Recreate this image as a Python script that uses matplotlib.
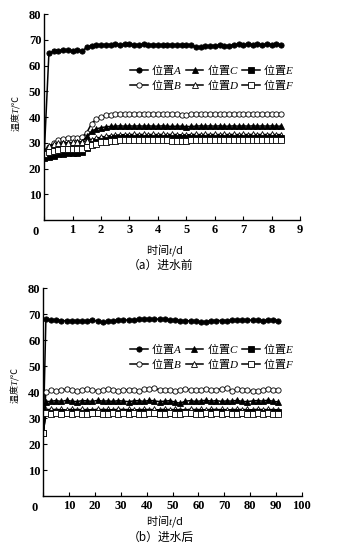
import numpy as np
import matplotlib
matplotlib.use("Agg")
import matplotlib.pyplot as plt

plt.rcParams['font.family'] = ['Noto Sans CJK SC', 'DejaVu Sans']
plt.rcParams['mathtext.fontset'] = 'custom'
plt.rcParams['mathtext.it'] = 'Liberation Serif:italic'
plt.rcParams['mathtext.rm'] = 'Liberation Serif'

# ---------------- data: (a) before water inflow ----------------
t_a = np.arange(51) / 6.0
A_a = [25.0, 64.8, 65.6, 65.8, 66.0, 65.9, 65.8, 65.9, 65.6, 67.2, 67.8, 68.0, 68.1,
       68.2, 68.2, 68.3, 68.2, 68.3, 68.3, 68.2, 68.2, 68.3, 68.2, 68.2, 68.2, 68.1,
       68.2, 68.2, 68.1, 68.2, 68.1, 68.1, 67.4, 67.3, 67.6, 67.8, 67.8, 67.9, 67.8,
       67.8, 68.2, 68.3, 68.2, 68.3, 68.2, 68.3, 68.2, 68.3, 68.2, 68.3, 68.2]
B_a = [25.5, 28.5, 30.0, 31.2, 31.5, 31.8, 32.0, 32.0, 32.3, 34.0, 37.5, 39.3, 40.2,
       40.7, 41.0, 41.1, 41.2, 41.3, 41.3, 41.3, 41.4, 41.3, 41.3, 41.3, 41.3, 41.3,
       41.3, 41.2, 41.2, 41.0, 41.0, 41.1, 41.3, 41.3, 41.3, 41.3, 41.3, 41.3, 41.3,
       41.3, 41.3, 41.3, 41.3, 41.3, 41.3, 41.3, 41.3, 41.3, 41.3, 41.3, 41.2]
C_a = [25.0, 27.5, 29.0, 29.5, 29.8, 30.0, 30.0, 30.2, 30.5, 32.5, 34.5, 35.4, 35.9,
       36.2, 36.4, 36.5, 36.6, 36.5, 36.6, 36.5, 36.6, 36.5, 36.6, 36.5, 36.5, 36.6,
       36.5, 36.4, 36.5, 36.5, 36.3, 36.4, 36.5, 36.6, 36.5, 36.6, 36.5, 36.6, 36.5,
       36.5, 36.6, 36.5, 36.6, 36.5, 36.6, 36.5, 36.6, 36.5, 36.6, 36.5, 36.5]
D_a = [27.0, 28.8, 29.5, 29.8, 30.0, 30.0, 30.2, 30.2, 30.5, 30.8, 31.3, 31.8, 32.2,
       32.5, 32.8, 33.0, 33.1, 33.2, 33.2, 33.3, 33.2, 33.3, 33.2, 33.3, 33.2, 33.3,
       33.2, 33.3, 33.2, 33.1, 33.1, 33.2, 33.3, 33.2, 33.3, 33.2, 33.3, 33.2, 33.3,
       33.2, 33.3, 33.2, 33.3, 33.2, 33.3, 33.2, 33.3, 33.2, 33.3, 33.2, 33.2]
E_a = [24.0, 24.5, 25.0, 25.5, 25.8, 26.0, 26.0, 26.2, 26.5, 28.0, 29.5, 30.3, 30.8,
       31.2, 31.5, 31.7, 31.8, 31.9, 31.9, 32.0, 31.9, 32.0, 31.9, 32.0, 31.9, 32.0,
       31.9, 31.9, 31.8, 31.8, 31.8, 31.9, 31.9, 32.0, 31.9, 32.0, 31.9, 32.0, 31.9,
       32.0, 31.9, 32.0, 31.9, 32.0, 31.9, 32.0, 31.9, 32.0, 31.9, 32.0, 31.9]
F_a = [25.5, 26.5, 27.0, 27.3, 27.5, 27.5, 27.6, 27.6, 27.8, 28.2, 29.0, 29.7, 30.2,
       30.5, 30.7, 30.9, 31.0, 31.0, 31.1, 31.0, 31.1, 31.0, 31.1, 31.0, 31.0, 31.0,
       31.0, 30.9, 30.9, 30.9, 30.9, 31.0, 31.0, 31.1, 31.0, 31.1, 31.0, 31.1, 31.0,
       31.0, 31.0, 31.1, 31.0, 31.1, 31.0, 31.1, 31.0, 31.1, 31.0, 31.1, 31.0]

# ---------------- data: (b) after water inflow ----------------
t_b = np.concatenate([[0.0], np.arange(1, 92, 2)])
A_b = [24.5, 68.0, 67.8, 67.7, 67.6, 67.5, 67.6, 67.5, 67.4, 67.6, 67.8, 67.3, 66.9,
       67.3, 67.6, 67.7, 67.8, 67.8, 67.9, 68.0, 68.1, 68.2, 68.1, 68.2, 68.0, 67.8,
       67.7, 67.6, 67.5, 67.5, 67.3, 66.9, 67.2, 67.5, 67.6, 67.6, 67.6, 67.7, 67.8,
       67.7, 67.8, 67.7, 67.7, 67.6, 67.7, 67.7, 67.6]
B_b = [24.5, 40.3, 40.9, 40.5, 41.0, 41.1, 40.8, 40.4, 41.0, 41.1, 40.9, 40.5, 41.0,
       41.1, 41.0, 40.5, 40.8, 41.0, 41.0, 40.6, 41.1, 41.2, 41.5, 41.0, 40.9, 41.0,
       40.4, 40.9, 41.1, 41.0, 40.8, 41.0, 41.1, 40.9, 40.8, 41.4, 41.5, 40.6, 41.1,
       41.0, 40.7, 40.6, 40.4, 41.0, 41.1, 40.8, 40.9]
C_b = [24.5, 36.3, 36.6, 36.8, 36.5, 36.9, 36.6, 36.4, 36.8, 36.7, 36.5, 36.9, 36.6,
       36.7, 36.5, 36.8, 36.6, 36.4, 36.7, 36.8, 36.5, 36.9, 36.7, 36.4, 36.6, 36.8,
       36.2, 35.8, 36.6, 36.8, 36.5, 36.7, 36.9, 36.6, 36.8, 36.5, 36.7, 36.6, 36.9,
       36.5, 36.4, 36.7, 36.8, 36.6, 37.0, 36.5, 36.3]
D_b = [24.5, 33.2, 33.5, 33.3, 33.4, 33.2, 33.5, 33.3, 33.4, 33.3, 33.2, 33.5, 33.3,
       33.4, 33.2, 33.5, 33.3, 33.4, 33.3, 33.2, 33.5, 33.3, 33.4, 33.2, 33.5, 33.3,
       33.4, 33.3, 33.2, 33.5, 33.3, 33.4, 33.2, 33.5, 33.3, 33.4, 33.3, 33.2, 33.5,
       33.3, 33.4, 33.2, 33.5, 33.3, 33.4, 33.3, 33.3]
E_b = [24.5, 32.4, 32.2, 32.5, 32.3, 32.2, 32.4, 32.3, 32.1, 32.5, 32.3, 32.2, 32.4,
       32.3, 32.5, 32.2, 32.4, 32.3, 32.2, 32.4, 32.3, 32.5, 32.2, 32.3, 32.4, 32.2,
       32.3, 32.5, 32.3, 32.2, 32.4, 32.3, 32.2, 32.4, 32.3, 32.5, 32.2, 32.3, 32.4,
       32.2, 32.3, 32.4, 32.3, 32.2, 32.4, 32.3, 32.3]
F_b = [24.5, 31.9, 31.7, 32.0, 31.8, 31.9, 31.6, 32.0, 31.8, 31.7, 31.9, 32.0, 31.8,
       31.6, 31.9, 31.8, 32.0, 31.7, 31.9, 31.8, 31.7, 31.9, 32.0, 31.8, 31.7, 31.9,
       31.8, 31.6, 31.9, 32.0, 31.8, 31.7, 31.9, 31.8, 32.0, 31.7, 31.9, 31.8, 31.7,
       31.9, 31.8, 31.6, 31.9, 31.8, 32.0, 31.7, 31.8]

labels = ['位置$\\mathit{A}$', '位置$\\mathit{B}$', '位置$\\mathit{C}$',
          '位置$\\mathit{D}$', '位置$\\mathit{E}$', '位置$\\mathit{F}$']
markers = ['o', 'o', '^', '^', 's', 's']
filled = [True, False, True, False, True, False]

yticks = [10, 20, 30, 40, 50, 60, 70, 80]
xticks_a = [0, 1, 2, 3, 4, 5, 6, 7, 8, 9]
xticks_b = [0, 10, 20, 30, 40, 50, 60, 70, 80, 90, 100]

tick_font = dict(family='Liberation Serif', weight='bold', size=9)

fig = plt.figure(figsize=(3.45, 5.46), dpi=100)
ax1 = fig.add_axes([0.128, 0.597, 0.742, 0.377])
ax2 = fig.add_axes([0.1255, 0.091, 0.749, 0.381])


def draw(ax, t, series, xticks, xmax, leg_y, ylab_y, xlab_y):
    for ys, lab, m, f in zip(series, labels, markers, filled):
        ax.plot(t, ys, color='black', lw=1.1, marker=m, markersize=3.8,
                markerfacecolor='black' if f else 'white',
                markeredgecolor='black', markeredgewidth=0.6, label=lab)
    ax.set_xlim(0, xmax)
    ax.set_ylim(0, 80)
    ax.set_yticks(yticks)
    ax.set_xticks(xticks)
    ax.set_yticklabels([str(v) for v in yticks], fontdict=tick_font)
    ax.set_xticklabels([''] + [str(v) for v in xticks[1:]], fontdict=tick_font)
    ax.annotate('0', xy=(0, 0), xycoords='axes fraction', xytext=(-6, -4),
                textcoords='offset points', ha='center', va='top', **tick_font)
    ax.tick_params(direction='in', length=3, width=0.8, pad=3)
    ax.tick_params(axis='y', pad=2)
    for s in ['top', 'right']:
        ax.spines[s].set_visible(False)
    for s in ['left', 'bottom']:
        ax.spines[s].set_linewidth(1.0)
    ax.set_ylabel('温度$\\mathit{T}$/℃', fontsize=6.5)
    ax.yaxis.set_label_coords(-0.085, ylab_y)
    ax.set_xlabel('时间$\\mathit{t}$/d', fontsize=8)
    ax.xaxis.set_label_coords(0.472, xlab_y)
    ax.legend(ncol=3, loc='upper left', bbox_to_anchor=(0.31, leg_y),
              frameon=False, fontsize=8, handlelength=1.6, handletextpad=0.3,
              columnspacing=0.3, labelspacing=0.0, borderpad=0.1)


draw(ax1, t_a, [A_a, B_a, C_a, D_a, E_a, F_a], xticks_a, 9, 0.80, 0.52, -0.105)
draw(ax2, t_b, [A_b, B_b, C_b, D_b, E_b, F_b], xticks_b, 100, 0.78, 0.535, -0.08)

fig.text(160 / 345, 1 - 265 / 546, '（a）进水前', ha='center', va='center', fontsize=8.5)
fig.text(161 / 345, 1 - 537 / 546, '（b）进水后', ha='center', va='center', fontsize=8.5)

fig.savefig('out.png', dpi=100)
